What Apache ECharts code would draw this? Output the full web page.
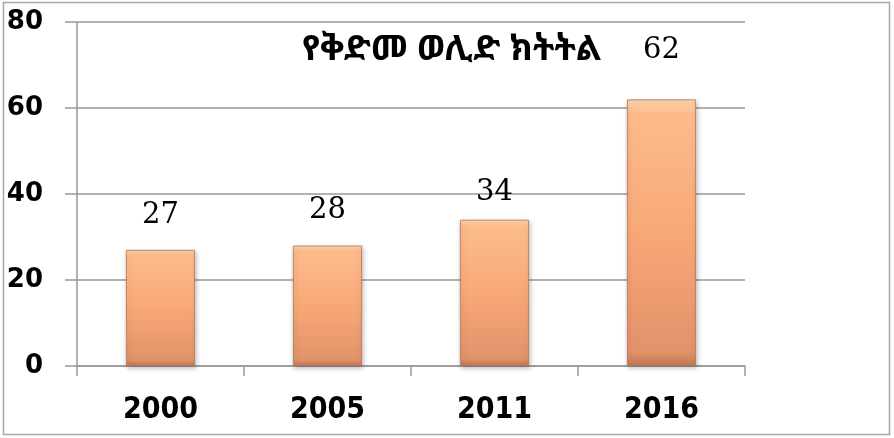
<!DOCTYPE html>
<html>
<head>
<meta charset="utf-8">
<script src="https://cdn.jsdelivr.net/npm/echarts@6/dist/echarts.min.js"></script>
<style>
  html, body { margin: 0; padding: 0; background: #fff; }
  #chart { width: 894px; height: 438px; }
</style>
</head>
<body>
<div id="chart"></div>
<script>
  // antenatal care coverage, %
  var years = ['2000', '2005', '2011', '2016'];
  var coverage = [27, 28, 34, 62];
  var yTicks = [0, 20, 40, 60, 80];
  var chartTitle = 'የቅድመ ወሊድ ክትትል';

  // label gaps were placed by hand in the original
  var gaps = [20, 21, 13, 34];

  var barColor = new echarts.graphic.LinearGradient(0, 0, 0, 1, [
    {offset: 0, color: '#FFD7AE'},
    {offset: 0.05, color: '#FDBB8C'},
    {offset: 0.5, color: '#F8A877'},
    {offset: 0.95, color: '#E2926A'},
    {offset: 1, color: '#C07653'}
  ]);

  var myChart = echarts.init(document.getElementById('chart'));
  myChart.setOption({
    animation: false,
    title: {
      text: chartTitle,
      left: 297,
      top: 28,
      textStyle: {
        fontSize: 35,
        fontWeight: 'bold',
        color: '#000',
        fontFamily: '"Noto Sans Ethiopic", "Abyssinica SIL", "DejaVu Sans", sans-serif'
      }
    },
    graphic: [{
      type: 'rect',
      shape: {x: 3.5, y: 2.5, width: 886, height: 432},
      style: {fill: 'none', stroke: '#A6A6A6', lineWidth: 1.5},
      silent: true
    }],
    grid: {left: 77, right: 149, top: 22, bottom: 72, outerBoundsMode: 'none'},
    xAxis: {
      type: 'category',
      data: years,
      axisLine: {lineStyle: {color: '#999', width: 1.5}},
      axisTick: {show: true, length: 10, lineStyle: {color: '#999', width: 1.5}},
      axisLabel: {
        margin: 29,
        fontSize: 30,
        fontWeight: 'bold',
        color: '#000',
        fontFamily: '"DejaVu Sans Condensed", "DejaVu Sans", sans-serif'
      }
    },
    yAxis: {
      type: 'value',
      min: 0,
      max: 80,
      interval: 20,
      axisLine: {show: true, lineStyle: {color: '#999', width: 1.5}},
      axisTick: {show: true, length: 12, lineStyle: {color: '#999', width: 1.5}},
      splitLine: {lineStyle: {color: '#999', width: 1.5}},
      axisLabel: {
        margin: 34,
        fontSize: 26,
        fontWeight: 'bold',
        color: '#000',
        fontFamily: '"DejaVu Sans", sans-serif',
        formatter: function (v) {
          return yTicks.indexOf(v) >= 0 ? String(v) : '';
        }
      }
    },
    series: [{
      type: 'bar',
      barWidth: 69,
      data: coverage.map(function (v, i) {
        return {
          value: v,
          label: {distance: gaps[i]}
        };
      }),
      itemStyle: {
        color: barColor,
        borderColor: '#B87350',
        borderWidth: 0.8,
        shadowColor: 'rgba(0,0,0,0.25)',
        shadowBlur: 5,
        shadowOffsetX: 1,
        shadowOffsetY: 2
      },
      label: {
        show: true,
        position: 'top',
        fontSize: 29,
        color: '#000',
        fontFamily: '"DejaVu Serif", "Liberation Serif", serif'
      }
    }]
  });
</script>
</body>
</html>
